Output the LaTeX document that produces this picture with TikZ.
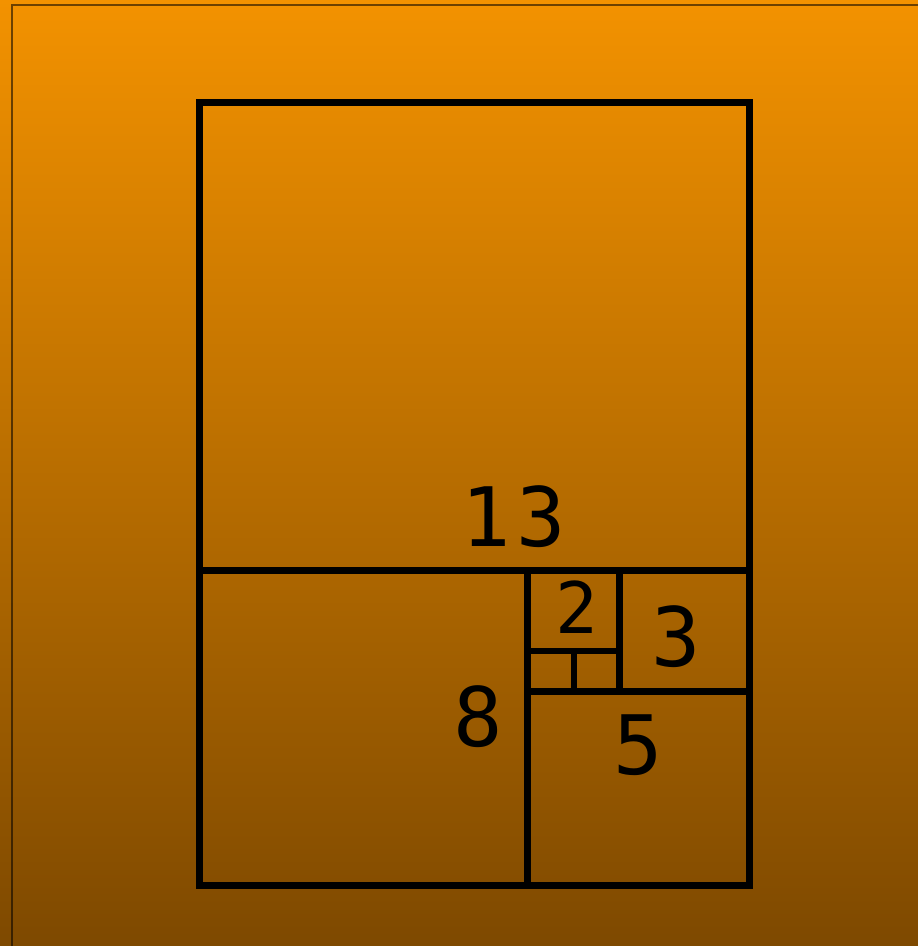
\documentclass[tikz,border=0pt]{standalone}
\usepackage{fontspec}
\setmonofont{DejaVu Sans Mono}
\definecolor{tiletop}{RGB}{243,146,0}
\definecolor{tilebottom}{RGB}{126,73,0}

\tikzset{
  tile wire/.style={line width=7pt},
  thin wire/.style={line width=6pt},
  page edge/.style={line width=2pt,black,opacity=0.55},
  tile label/.style={inner sep=0pt,font=\ttfamily\fontsize{82}{82}\selectfont},
  small label/.style={inner sep=0pt,font=\ttfamily\fontsize{71}{71}\selectfont}
}

\begin{document}
\begin{tikzpicture}[x=1pt,y=-1pt]
      \shade[top color=tiletop,bottom color=tilebottom] (0,0) rectangle (918,946);
      \useasboundingbox (0,0) rectangle (918,946);
      \draw[page edge] (12,946) -- (12,5) -- (918,5);
      % outer rectangle and the squares inside it
      \draw[tile wire] (199,102) rectangle (749,885);
      \draw[tile wire] (199,570.5) -- (749,570.5);
      \draw[tile wire] (527.5,570.5) -- (527.5,885);
      \draw[tile wire] (619,570.5) -- (619,691.5);
      \draw[tile wire] (527.5,691.5) -- (749,691.5);
      \draw[thin wire] (527.5,651) -- (619,651);
      \draw[thin wire] (573.5,651) -- (573.5,691.5);
      \node[tile label] (thirteen) at (514,517) {1\hspace{6pt}3};
      \node[small label] (two) at (577,607) {2};
      \node[tile label] (three) at (676,637) {3};
      \node[tile label] (eight) at (478,717) {8};
      \node[tile label] (five) at (638,745) {5};
    \end{tikzpicture}
\end{document}
